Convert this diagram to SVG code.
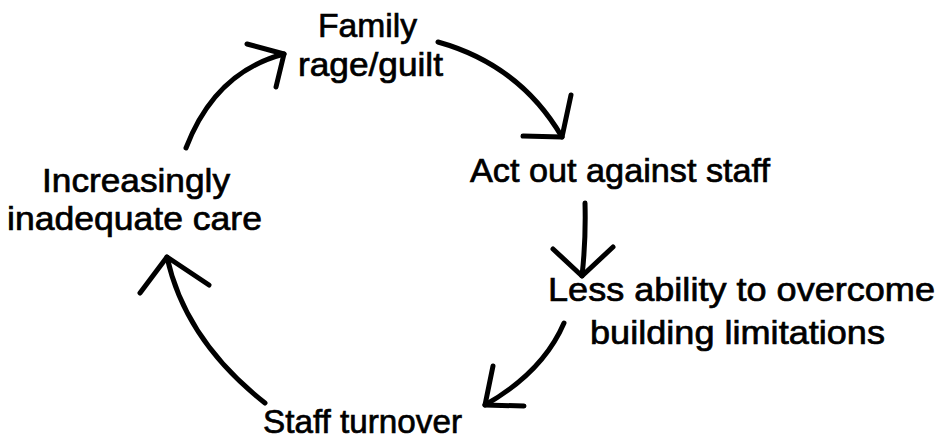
<svg xmlns="http://www.w3.org/2000/svg" width="940" height="441" viewBox="0 0 940 441">
  <style>
    .lbl { font-family: "Liberation Sans", Arial, Helvetica, sans-serif; font-size: 34px; fill: #000; stroke: #000; stroke-width: 0.7px; }
    .arc { fill: none; stroke: #000; stroke-width: 5; stroke-linecap: round; stroke-linejoin: round; }
  </style>
  <rect width="940" height="441" fill="#fff"/>

  <g id="family-rage">
    <text class="lbl" x="318" y="37" textLength="99" lengthAdjust="spacingAndGlyphs">Family</text>
    <text class="lbl" x="298" y="76" textLength="145" lengthAdjust="spacingAndGlyphs">rage/guilt</text>
  </g>
  <g id="act-out">
    <text class="lbl" x="470" y="182" textLength="300" lengthAdjust="spacingAndGlyphs">Act out against staff</text>
  </g>
  <g id="less-ability">
    <text class="lbl" x="548" y="301" textLength="387" lengthAdjust="spacingAndGlyphs">Less ability to overcome</text>
    <text class="lbl" x="590" y="344" textLength="295" lengthAdjust="spacingAndGlyphs">building limitations</text>
  </g>
  <g id="staff-turnover">
    <text class="lbl" x="263" y="433" textLength="199" lengthAdjust="spacingAndGlyphs">Staff turnover</text>
  </g>
  <g id="inadequate-care">
    <text class="lbl" x="42" y="192" textLength="188" lengthAdjust="spacingAndGlyphs">Increasingly</text>
    <text class="lbl" x="7" y="230" textLength="255" lengthAdjust="spacingAndGlyphs">inadequate care</text>
  </g>

  <g id="connectors">
    <!-- care -> family -->
    <path class="arc" d="M186,148 Q215,72 284,54"/>
    <path class="arc" d="M247,44 L284,54 L276,87"/>
    <!-- family -> act out -->
    <path class="arc" d="M438,42 Q520,65 562,137"/>
    <path class="arc" d="M523,136 L562,137 L571,95"/>
    <!-- act out -> less ability -->
    <path class="arc" d="M585,203 Q586,240 582,276"/>
    <path class="arc" d="M553,249 L582,276 L613,247"/>
    <!-- less ability -> turnover -->
    <path class="arc" d="M564,323 Q543,372 485,405"/>
    <path class="arc" d="M493,366 L485,405 L524,406"/>
    <!-- turnover -> care -->
    <path class="arc" d="M265,403 Q185,340 167,257"/>
    <path class="arc" d="M140,293 L167,257 L209,285"/>
  </g>
</svg>
